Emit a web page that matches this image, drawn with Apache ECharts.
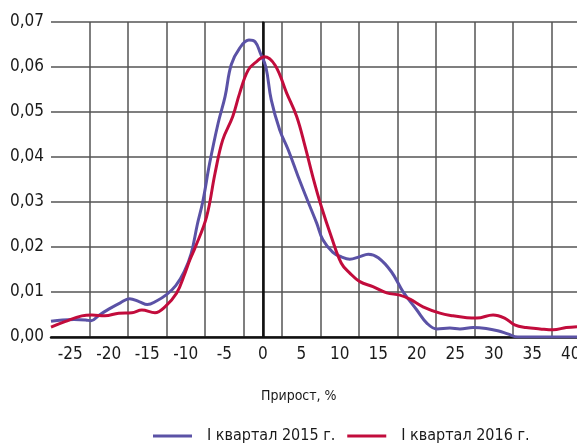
<!DOCTYPE html>
<html>
<head>
<meta charset="utf-8">
<script src="https://cdn.jsdelivr.net/npm/echarts@6/dist/echarts.min.js"></script>
<style>
  html, body { margin: 0; padding: 0; background: #fff; }
  #main { width: 577px; height: 444px; }
</style>
</head>
<body>
<div id="main"></div>
<script>
// прирост, % (ось X) и плотность (ось Y)
var x2015 = [-27.5, -26, -24.5, -23, -22.3, -21.3, -20, -18.5, -17.3, -16, -15, -13.8, -12.5, -11.3, -10.2, -9.3, -8.5, -7.8, -6.9, -5.8, -4.9, -4.1, -3.0, -1.8, -1.0, -0.3, 0.4, 1.1, 2.2, 3.3, 4.6, 5.8, 7.0, 7.8, 9.1, 10.2, 11.3, 12.5, 13.7, 15, 16.7, 18.2, 20, 21.3, 22.6, 24.3, 25.6, 27.3, 29, 30.5, 31.8, 33.1, 35, 40.8];
var y2015 = [0.0035, 0.0038, 0.0039, 0.0038, 0.0036, 0.0048, 0.0062, 0.0076, 0.0085, 0.0078, 0.0072, 0.0080, 0.0094, 0.0114, 0.0145, 0.0185, 0.025, 0.030, 0.0386, 0.0475, 0.0534, 0.0605, 0.0642, 0.066, 0.0656, 0.063, 0.060, 0.0527, 0.046, 0.0416, 0.0356, 0.0304, 0.0253, 0.0216, 0.0188, 0.0178, 0.0173, 0.0178, 0.0184, 0.0176, 0.0145, 0.0101, 0.006, 0.0031, 0.0018, 0.002, 0.0018, 0.0021, 0.0019, 0.0014, 0.0007, 0, 0, 0];

var x2016 = [-27.5, -25.7, -23.5, -22.2, -20.5, -18.7, -17, -15.7, -14, -12.7, -11.2, -10.1, -9.5, -8.8, -7.3, -6.2, -5.2, -3.9, -3, -1.9, -0.8, 0.2, 1.6, 3.1, 4.4, 5.5, 6.5, 7.6, 8.9, 10.2, 11.3, 12.6, 14.3, 16.1, 17.8, 19.1, 20.8, 23, 24.7, 26.5, 27.8, 29.9, 31.4, 32.7, 34.2, 36, 37.7, 39.4, 40.8];
var y2016 = [0.0022, 0.0034, 0.0047, 0.0049, 0.0047, 0.0053, 0.0054, 0.006, 0.0054, 0.0067, 0.0097, 0.0142, 0.017, 0.0198, 0.0267, 0.0364, 0.0438, 0.049, 0.0542, 0.0593, 0.0612, 0.0623, 0.0604, 0.0542, 0.049, 0.0423, 0.0356, 0.029, 0.0223, 0.0164, 0.0142, 0.0123, 0.0112, 0.0098, 0.0093, 0.0084, 0.0067, 0.0053, 0.0047, 0.0043, 0.0042, 0.0049, 0.0042, 0.0027, 0.0021, 0.0018, 0.0016, 0.0021, 0.0023];

var xLabels = [-25, -20, -15, -10, -5, 0, 5, 10, 15, 20, 25, 30, 35, 40];
var xGrid = [-22.5, -17.5, -12.5, -7.5, -2.5, 2.5, 7.5, 12.5, 17.5, 22.5, 27.5, 32.5, 37.5];

var names = ['I квартал 2015 г.', 'I квартал 2016 г.'];
var colors = ['#5b52a6', '#c20c3c'];

var FONT = "'Liberation Sans Narrow', 'DejaVu Sans Condensed', sans-serif";

function zip(xs, ys) {
  return xs.map(function (x, i) { return [x, ys[i]]; });
}

var chart = echarts.init(document.getElementById('main'));
chart.setOption({
  animation: false,
  textStyle: { fontFamily: FONT, color: '#1a1a1a' },
  grid: { left: 51, right: 0, top: 22, bottom: 107, outerBoundsMode: 'none', containLabel: false },
  xAxis: {
    type: 'value',
    min: -27.5,
    max: 40.8,
    axisLine: { show: true, onZero: false, lineStyle: { color: '#111', width: 2.5 } },
    axisTick: { show: false, customValues: xGrid },
    axisLabel: {
      customValues: xLabels,
      fontSize: 17,
      margin: 9,
      color: '#1a1a1a',
      fontFamily: FONT
    },
    splitLine: { show: true, lineStyle: { color: '#555', width: 1.5 } }
  },
  yAxis: {
    type: 'value',
    min: 0,
    max: 0.07,
    interval: 0.01,
    axisLine: { show: true, lineStyle: { color: '#111', width: 1.5 } },
    axisTick: { show: false },
    axisLabel: {
      fontSize: 17,
      margin: 7,
      color: '#1a1a1a',
      fontFamily: FONT,
      formatter: function (v) { return v.toFixed(2).replace('.', ','); }
    },
    splitLine: { show: true, lineStyle: { color: '#555', width: 1.5 } }
  },
  graphic: [{
    type: 'text',
    left: 261,
    top: 389,
    style: { text: 'Прирост, %', font: '14px ' + FONT, fill: '#1a1a1a' }
  }],
  legend: {
    left: 148,
    top: 423,
    width: 429,
    itemWidth: 39,
    itemHeight: 3,
    itemGap: 12,
    icon: 'rect',
    data: names,
    textStyle: { fontSize: 16, fontFamily: FONT, color: '#1a1a1a', padding: [0, 0, 0, 10] }
  },
  series: [
    {
      name: names[0],
      type: 'line',
      data: zip(x2015, y2015),
      smooth: 0.4,
      showSymbol: false,
      color: colors[0],
      lineStyle: { width: 3, color: colors[0] },
      z: 3
    },
    {
      name: names[1],
      type: 'line',
      data: zip(x2016, y2016),
      smooth: 0.4,
      showSymbol: false,
      color: colors[1],
      lineStyle: { width: 3, color: colors[1] },
      z: 4,
      markLine: {
        silent: true,
        symbol: 'none',
        label: { show: false },
        lineStyle: { color: '#111', width: 2.5, type: 'solid' },
        data: [{ xAxis: 0 }],
        z: 2
      }
    }
  ]
});
</script>
</body>
</html>
